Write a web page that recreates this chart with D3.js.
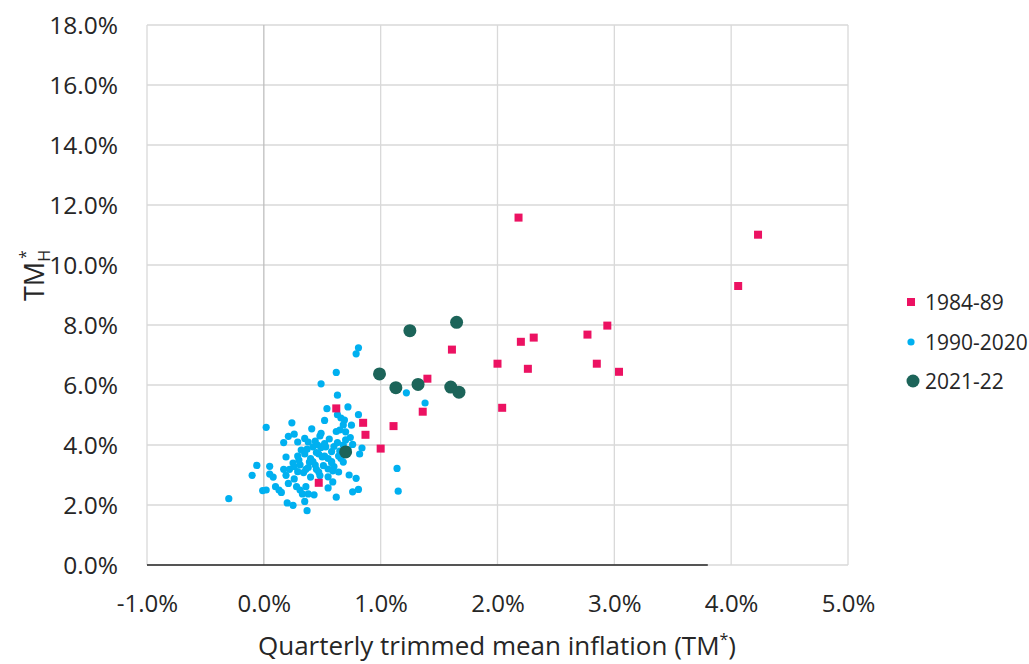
<!DOCTYPE html>
<html>
<head>
<meta charset="utf-8">
<script src="https://cdn.jsdelivr.net/npm/d3@7"></script>
<style>
  body { margin: 0; background: #fff; }
  text { font-family: "Open Sans", "Noto Sans", sans-serif; fill: #262626; }
</style>
</head>
<body>
<svg width="1029" height="664"></svg>
<script>
// values in percent
const series1 = [ // 1984-89
  [2.18, 11.58], [2.94, 7.98], [2.77, 7.68], [2.31, 7.58], [2.20, 7.44],
  [1.61, 7.18], [2.00, 6.71], [2.85, 6.71], [2.26, 6.54], [3.04, 6.44],
  [1.40, 6.21], [1.36, 5.11], [2.04, 5.24], [0.62, 5.22], [4.23, 11.01],
  [4.06, 9.30], [0.85, 4.74], [0.87, 4.34], [1.11, 4.63], [1.00, 3.88],
  [0.47, 2.74]
];

const series2 = [ // 1990-2020
  [0.81, 7.24], [0.79, 7.04], [0.62, 6.42], [0.49, 6.04], [0.63, 5.66],
  [1.22, 5.74], [1.38, 5.40], [0.54, 5.21], [0.72, 5.27], [0.81, 5.01],
  [0.02, 4.59], [0.24, 4.74], [0.52, 4.82], [0.63, 5.01], [0.66, 4.90],
  [0.69, 4.83], [0.68, 4.67], [0.75, 4.66], [0.65, 4.50], [0.70, 4.44],
  [0.41, 4.54], [0.49, 4.39], [0.48, 4.30], [0.26, 4.36], [0.21, 4.29],
  [0.17, 4.08], [0.29, 4.10], [0.35, 4.22], [0.38, 4.10], [0.44, 4.13],
  [0.56, 4.20], [0.63, 4.08], [0.70, 4.17], [0.76, 4.02], [0.84, 3.90],
  [0.82, 3.70], [0.19, 3.60], [0.29, 3.63], [0.32, 3.83], [0.37, 3.86],
  [0.42, 3.94], [0.46, 4.00], [0.49, 3.92], [0.53, 3.94], [0.47, 3.70],
  [0.52, 3.63], [0.58, 3.78], [0.64, 3.63], [0.68, 3.43], [-0.06, 3.32],
  [0.05, 3.29], [-0.10, 2.99], [0.05, 3.03], [0.08, 2.93], [0.17, 3.19],
  [0.22, 3.19], [0.26, 3.28], [0.31, 3.34], [0.29, 3.11], [0.34, 3.08],
  [0.36, 3.19], [0.39, 3.43], [0.44, 3.33], [0.45, 3.19], [0.51, 3.31],
  [0.58, 3.41], [0.60, 3.28], [0.59, 3.14], [0.64, 3.10], [0.73, 3.00],
  [0.79, 2.89], [0.19, 2.99], [0.26, 2.87], [0.40, 2.93], [0.48, 2.98],
  [0.55, 2.94], [0.59, 2.77], [0.55, 2.57], [0.21, 2.72], [0.10, 2.61],
  [0.13, 2.50], [0.15, 2.42], [-0.01, 2.48], [0.02, 2.50], [0.28, 2.61],
  [0.31, 2.50], [0.36, 2.61], [0.33, 2.37], [0.38, 2.37], [0.43, 2.34],
  [0.62, 2.26], [0.76, 2.44], [0.81, 2.52], [1.14, 3.22], [1.15, 2.46],
  [-0.30, 2.21], [0.20, 2.07], [0.25, 1.99], [0.35, 2.12], [0.37, 1.81],
  [0.40, 3.55], [0.45, 3.75], [0.55, 3.55], [0.60, 3.95], [0.35, 3.70],
  [0.30, 3.50], [0.42, 3.45], [0.50, 3.60], [0.58, 3.45], [0.25, 3.40],
  [0.38, 3.25], [0.47, 3.10], [0.65, 3.80], [0.68, 4.00], [0.72, 3.85],
  [0.52, 4.05], [0.62, 4.45], [0.74, 4.25], [0.66, 3.55], [0.55, 3.20]
];

const series3 = [ // 2021-22
  [1.25, 7.81], [1.65, 8.09], [0.99, 6.37], [1.13, 5.91],
  [1.32, 6.02], [1.60, 5.93], [1.67, 5.76], [0.70, 3.77]
];

const xTicks = [-1, 0, 1, 2, 3, 4, 5];
const yTicks = [0, 2, 4, 6, 8, 10, 12, 14, 16, 18];
const legendLabels = ["1984-89", "1990-2020", "2021-22"];

const pink = "#ec1262", blue = "#00b0f0", green = "#1c6459";

const svg = d3.select("svg");
const plotLeft = 147, plotRight = 848, plotTop = 25, plotBottom = 565;

const x = d3.scaleLinear().domain([-1, 5]).range([plotLeft, plotRight]);
const y = d3.scaleLinear().domain([0, 18]).range([plotBottom, plotTop]);
const fmt = d => d.toFixed(1) + "%";

// gridlines
svg.append("g")
  .selectAll("line")
  .data(yTicks)
  .join("line")
  .attr("x1", plotLeft).attr("x2", plotRight)
  .attr("y1", d => y(d)).attr("y2", d => y(d))
  .attr("stroke", "#d9d9d9").attr("stroke-width", 1.3);

svg.append("g")
  .selectAll("line")
  .data(xTicks)
  .join("line")
  .attr("x1", d => x(d)).attr("x2", d => x(d))
  .attr("y1", plotTop).attr("y2", plotBottom)
  .attr("stroke", d => d === 0 ? "#bfbfbf" : "#d9d9d9")
  .attr("stroke-width", 1.3);

// black axis line (stops short in the original)
svg.append("line")
  .attr("x1", x(-1)).attr("x2", x(3.8))
  .attr("y1", y(0)).attr("y2", y(0))
  .attr("stroke", "#262626").attr("stroke-width", 1.3);

// tick labels through d3 axes, then strip the lines
const yAxis = svg.append("g")
  .attr("transform", `translate(${plotLeft},0)`)
  .call(d3.axisLeft(y).tickValues(yTicks).tickFormat(fmt).tickSize(0).tickPadding(29));
yAxis.select(".domain").remove();
yAxis.selectAll("text").attr("font-size", 24.5).attr("dy", "0.36em");
yAxis.attr("font-family", null);

const xAxis = svg.append("g")
  .attr("transform", `translate(0,${plotBottom})`)
  .call(d3.axisBottom(x).tickValues(xTicks).tickFormat(fmt).tickSize(0).tickPadding(30));
xAxis.select(".domain").remove();
xAxis.selectAll("text").attr("font-size", 24).attr("dy", "0.71em");
xAxis.attr("font-family", null);

// axis titles
const xt = svg.append("text")
  .attr("x", 497).attr("y", 655)
  .attr("text-anchor", "middle").attr("font-size", 26);
xt.append("tspan").text("Quarterly trimmed mean inflation (TM");
xt.append("tspan").text("*").attr("font-size", 16).attr("dy", -10);
xt.append("tspan").text(")").attr("dy", 10);

const yt = svg.append("text")
  .attr("transform", "translate(44,301) rotate(-90)")
  .attr("font-size", 27);
yt.append("tspan").text("TM");
yt.append("tspan").text("H").attr("font-size", 16).attr("dy", 6);
yt.append("tspan").text("*").attr("font-size", 16).attr("dx", -9).attr("dy", -19);

// marks
svg.append("g")
  .selectAll("circle")
  .data(series2)
  .join("circle")
  .attr("cx", d => x(d[0])).attr("cy", d => y(d[1]))
  .attr("r", 3.6).attr("fill", blue);

svg.append("g")
  .selectAll("rect")
  .data(series1)
  .join("rect")
  .attr("x", d => x(d[0]) - 4).attr("y", d => y(d[1]) - 4)
  .attr("width", 8).attr("height", 8).attr("fill", pink);

svg.append("g")
  .selectAll("circle")
  .data(series3)
  .join("circle")
  .attr("cx", d => x(d[0])).attr("cy", d => y(d[1]))
  .attr("r", 6.5).attr("fill", green);

// legend
const lg = svg.append("g").attr("transform", "translate(911,0)");
const rows = [302, 342, 381];
lg.append("rect").attr("x", -4).attr("y", rows[0] - 4).attr("width", 8).attr("height", 8).attr("fill", pink);
lg.append("circle").attr("cx", 0).attr("cy", rows[1]).attr("r", 3.6).attr("fill", blue);
lg.append("circle").attr("cx", 2).attr("cy", rows[2]).attr("r", 6.5).attr("fill", green);
lg.selectAll("text")
  .data(legendLabels)
  .join("text")
  .attr("x", 14).attr("y", (d, i) => rows[i])
  .attr("dy", "0.36em")
  .attr("font-size", 21)
  .text(d => d);
</script>
</body>
</html>
